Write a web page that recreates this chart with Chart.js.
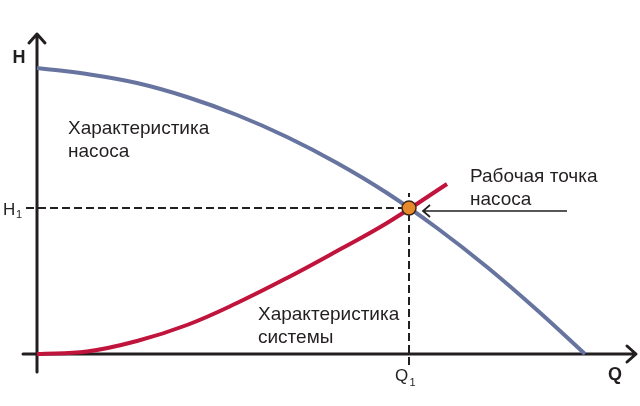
<!DOCTYPE html>
<html lang="ru">
<head>
    <meta charset="UTF-8">
    <title>Рабочая точка насоса</title>
    <script src="https://cdn.jsdelivr.net/npm/chart.js"></script>
    <style>
        html, body {
            margin: 0;
            padding: 0;
            background: #fff;
        }
        .wrap {
            width: 640px;
            height: 406px;
            position: relative;
        }
    </style>
</head>
<body>
    <div class="wrap">
        <canvas id="chart"></canvas>
    </div>

    <script>
        // pump curve (Q, H), arbitrary units
        const pumpQ = [0, 50, 100, 150, 200, 250, 300, 350, 400, 450, 500, 548];
        const pumpH = [286, 280, 271, 257, 239, 217, 191, 161, 126, 87, 44, 0];

        // system curve
        const sysQ = [0, 50, 100, 150, 200, 250, 300, 350, 410];
        const sysH = [0, 2.5, 13, 29, 51, 76, 103, 131, 170];

        // operating point Q1 / H1
        const opQ = [372];
        const opH = [146];

        const ink = '#231f20';

        const toXY = (xs, ys) => xs.map((x, i) => ({ x: x, y: ys[i] }));

        // axes with arrow heads + text, drawn through the scales
        const sketch = {
            id: 'sketch',
            beforeDatasetsDraw(chart) {
                const { ctx, scales: { x, y } } = chart;
                const x0 = x.getPixelForValue(0), y0 = y.getPixelForValue(0);
                ctx.save();
                ctx.strokeStyle = ink;
                ctx.lineWidth = 3;
                ctx.lineCap = 'round';
                ctx.lineJoin = 'round';
                // y axis
                const yTop = y.getPixelForValue(320);
                ctx.beginPath();
                ctx.moveTo(x0, y.getPixelForValue(-18));
                ctx.lineTo(x0, yTop);
                ctx.moveTo(x0 - 8, yTop + 9);
                ctx.lineTo(x0, yTop);
                ctx.lineTo(x0 + 8, yTop + 9);
                // x axis
                const xEnd = x.getPixelForValue(599);
                ctx.moveTo(x.getPixelForValue(-14), y0);
                ctx.lineTo(xEnd, y0);
                ctx.moveTo(xEnd - 9, y0 - 8);
                ctx.lineTo(xEnd, y0);
                ctx.lineTo(xEnd - 9, y0 + 8);
                ctx.stroke();
                ctx.restore();
            },
            afterDraw(chart) {
                const { ctx, scales: { x, y } } = chart;
                const px = v => x.getPixelForValue(v);
                const py = v => y.getPixelForValue(v);
                ctx.save();
                ctx.fillStyle = ink;
                ctx.textBaseline = 'alphabetic';

                // arrow pointing to the operating point
                ctx.strokeStyle = ink;
                ctx.lineWidth = 1.7;
                const ay = py(opH[0]) + 3;
                const ax = px(opQ[0]) + 14;
                ctx.beginPath();
                ctx.moveTo(px(530), ay);
                ctx.lineTo(ax, ay);
                ctx.moveTo(ax + 7, ay - 6);
                ctx.lineTo(ax, ay);
                ctx.lineTo(ax + 7, ay + 6);
                ctx.stroke();

                // axis names
                ctx.font = 'bold 18px "Liberation Sans", Arial, sans-serif';
                ctx.textAlign = 'center';
                ctx.fillText('H', 19, 63);
                ctx.fillText('Q', 615, 380);

                // H1 and Q1
                ctx.font = '17px "Liberation Sans", Arial, sans-serif';
                ctx.textAlign = 'left';
                ctx.fillText('H', 3, 215);
                ctx.fillText('Q', px(opQ[0]) - 14, 381);
                ctx.font = '11px "Liberation Sans", Arial, sans-serif';
                ctx.fillText('1', 16, 218);
                ctx.fillText('1', px(opQ[0]) + 0.5, 386);

                // curve labels
                ctx.font = '19px "Liberation Sans", Arial, sans-serif';
                ctx.fillText('Характеристика', 68, 134);
                ctx.fillText('насоса', 68, 157);
                ctx.fillText('Рабочая точка', 470, 182);
                ctx.fillText('насоса', 470, 205);
                ctx.fillText('Характеристика', 258, 320);
                ctx.fillText('системы', 258, 343);
                ctx.restore();
            }
        };

        const dashed = {
            showLine: true,
            borderColor: ink,
            borderWidth: 2,
            borderDash: [8, 4],
            pointRadius: 0,
            clip: false
        };

        new Chart(document.getElementById('chart'), {
            type: 'scatter',
            data: {
                datasets: [
                    {
                        label: 'Рабочая точка',
                        data: toXY(opQ, opH),
                        pointRadius: 7,
                        pointBackgroundColor: '#e8892a',
                        pointBorderColor: '#3b2a1c',
                        pointBorderWidth: 1.5,
                        clip: false
                    },
                    {
                        label: 'Характеристика насоса',
                        data: toXY(pumpQ, pumpH),
                        showLine: true,
                        borderColor: '#6874a0',
                        borderWidth: 4,
                        pointRadius: 0,
                        tension: 0.4,
                        clip: false
                    },
                    {
                        label: 'Характеристика системы',
                        data: toXY(sysQ, sysH),
                        showLine: true,
                        borderColor: '#c0143c',
                        borderWidth: 4,
                        pointRadius: 0,
                        tension: 0.4,
                        clip: false
                    },
                    Object.assign({ label: 'H1', data: [{ x: -11, y: opH[0] }, { x: opQ[0], y: opH[0] }] }, dashed),
                    Object.assign({ label: 'Q1', data: [{ x: opQ[0], y: -11 }, { x: opQ[0], y: opH[0] + 15 }] }, dashed)
                ]
            },
            options: {
                responsive: true,
                maintainAspectRatio: false,
                animation: false,
                layout: { autoPadding: false, padding: { left: 37, right: 0, top: 0, bottom: 52 } },
                plugins: {
                    legend: { display: false },
                    tooltip: { enabled: false }
                },
                scales: {
                    x: { type: 'linear', min: 0, max: 603, display: false },
                    y: { type: 'linear', min: 0, max: 354, display: false }
                }
            },
            plugins: [sketch]
        });
    </script>
</body>
</html>
